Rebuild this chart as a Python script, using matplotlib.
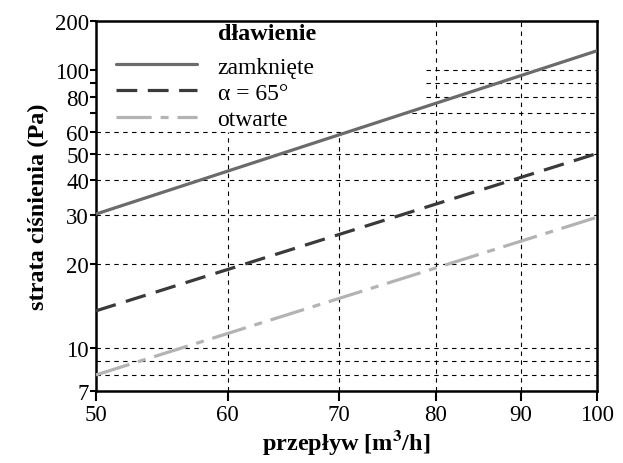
import numpy as np
import matplotlib
matplotlib.use("Agg")
import matplotlib.pyplot as plt
from matplotlib.ticker import NullFormatter, NullLocator, FixedLocator

plt.rcParams['font.family'] = ['Liberation Serif', 'DejaVu Serif']
plt.rcParams['mathtext.fontset'] = 'stix'

# dane (log-log, proste)
flow = [50, 100]
zamkniete = [30.3, 117]
alfa65 = [13.6, 50]
otwarte = [8.0, 29.5]

series_labels = ['zamknięte', 'α = 65°', 'otwarte']
legend_title = 'dławienie'

xticks = [50, 60, 70, 80, 90, 100]
yticks = [7, 10, 20, 30, 40, 50, 60, 80, 100, 150]
ytick_labels = ['7', '10', '20', '30', '40', '50', '60', '80', '100', '200']
yminor = [70, 90]

# siatka (omija obszar legendy)
grid_full_y = [8, 9, 10, 20, 30, 40, 50, 60]
grid_part_y = [70, 80, 90, 100]
grid_part_x0 = [76.5, 79, 79, 79]
grid_full_x = [80, 90]
grid_part_x = [60, 70]

fig = plt.figure(figsize=(6.23, 4.64), dpi=100)
ax = fig.add_axes([0.154, 0.155, 0.804, 0.798])
ax.set_xscale('log')
ax.set_yscale('log')
ax.set_xlim(50, 100)
ax.set_ylim(7, 150)

gkw = dict(colors='black', linewidth=0.8, linestyles=(0, (4, 4)), zorder=1)
ax.hlines(grid_full_y, 50, 100, **gkw)
for yv, x0 in zip(grid_part_y, grid_part_x0):
    ax.hlines(yv, x0, 100, **gkw)
ax.vlines(grid_full_x, 7, 150, **gkw)
ax.vlines(grid_part_x, 7, 60, **gkw)

lw = 2.3
l1, = ax.plot(flow, zamkniete, color='#6b6b6b', lw=lw, solid_capstyle='round', zorder=3)
l2, = ax.plot(flow, alfa65, color='#3a3a3a', lw=lw, linestyle=(0, (6.5, 3.3)), zorder=3)
l3, = ax.plot(flow, otwarte, color='#b3b3b3', lw=lw, linestyle=(0, (11, 2.8, 2.5, 2.8)), zorder=3)

ax.xaxis.set_major_locator(FixedLocator(xticks))
ax.xaxis.set_minor_locator(NullLocator())
ax.set_xticklabels([str(v) for v in xticks])
ax.xaxis.set_minor_formatter(NullFormatter())
ax.yaxis.set_major_locator(FixedLocator(yticks))
ax.set_yticklabels(ytick_labels)
ax.yaxis.set_minor_locator(FixedLocator(yminor))
ax.yaxis.set_minor_formatter(NullFormatter())

ax.tick_params(axis='both', which='both', direction='out', width=1.5, labelsize=16.5, colors='black')
ax.tick_params(axis='x', which='major', length=7, pad=2)
ax.tick_params(axis='y', which='major', length=4, pad=1)
ax.tick_params(axis='y', which='minor', length=4)
for s in ax.spines.values():
    s.set_linewidth(1.8)

ax.set_xlabel(r'przepływ [m$^{\mathbf{3}}$/h]', fontsize=17.5, fontweight='bold', labelpad=2)
ax.set_ylabel('strata ciśnienia (Pa)', fontsize=17.5, fontweight='bold', labelpad=4)

leg = ax.legend([l1, l2, l3], series_labels,
                loc='upper left', bbox_to_anchor=(0.04, 0.905), frameon=False,
                fontsize=17, handlelength=3.45, handletextpad=0.85,
                labelspacing=0.2, borderaxespad=0, borderpad=0)
ax.text(0.2435, 0.952, legend_title, transform=ax.transAxes, fontsize=17.5,
        fontweight='bold', ha='left', va='baseline')

fig.savefig('out.png', dpi=100)
